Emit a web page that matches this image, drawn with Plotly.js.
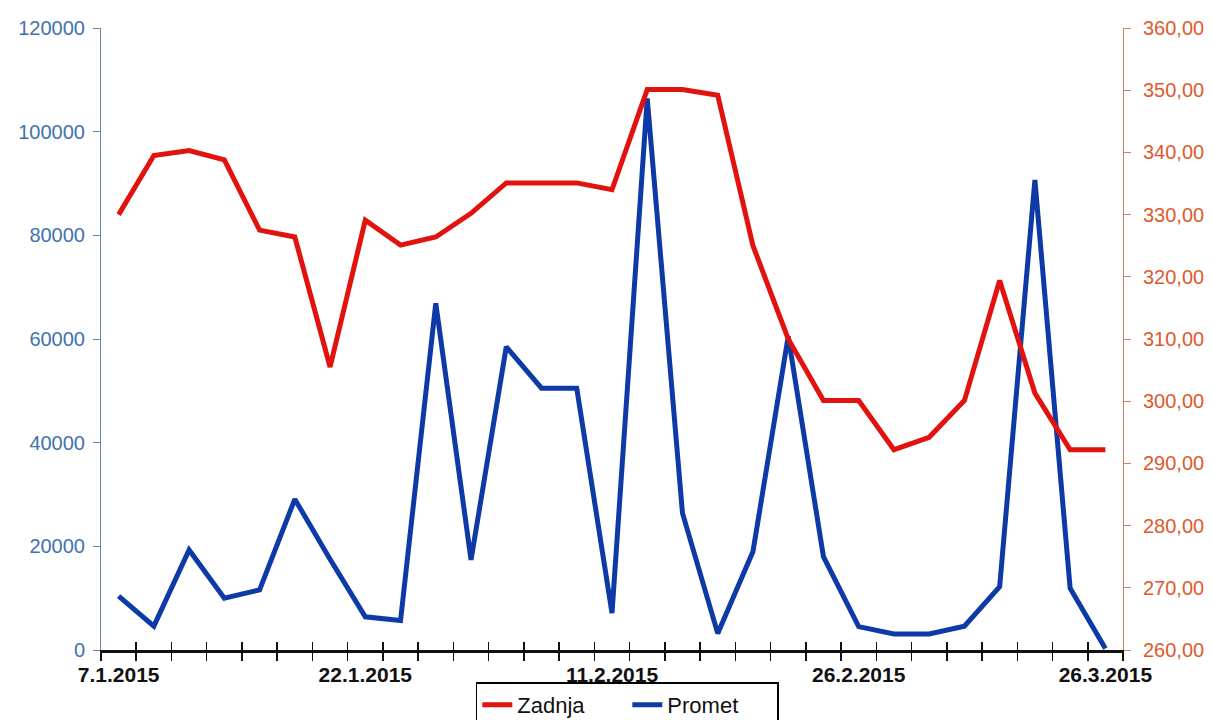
<!DOCTYPE html>
<html>
<head>
<meta charset="utf-8">
<script src="https://cdn.plot.ly/plotly-3.0.1.min.js"></script>
<style>html,body{margin:0;padding:0;background:#fff;}#chart{width:1212px;height:720px;}</style>
</head>
<body>
<div id="chart"></div>
<script>
// Trading-day index (one point per day shown)
const dayIndex = [0,1,2,3,4,5,6,7,8,9,10,11,12,13,14,15,16,17,18,19,20,21,22,23,24,25,26,27,28];
const tickIdx = [0, 7, 14, 21, 28];
const tickLabels = ['7.1.2015', '22.1.2015', '11.2.2015', '26.2.2015', '26.3.2015'];

// Zadnja (last price) – right axis
const zadnja = [330.0, 339.5, 340.3, 338.8, 327.5, 326.4, 305.5, 329.1, 325.1, 326.4,
                330.2, 335.1, 335.1, 335.1, 334.0, 350.1, 350.1, 349.2, 325.0, 310.0,
                300.1, 300.1, 292.2, 294.2, 300.1, 319.4, 301.3, 292.2, 292.2];

// Promet (turnover) – left axis
const promet = [10400, 4600, 19300, 10000, 11600, 29100, 17500, 6400, 5700, 66900,
                17400, 58500, 50500, 50500, 7100, 106400, 26400, 3200, 19000, 60500,
                18000, 4500, 3100, 3100, 4600, 12200, 90700, 11900, 300];

const RED = '#e2120f';
const BLUE = '#0d3aa6';

const traces = [
  {x: dayIndex, y: zadnja, name: 'Zadnja', type: 'scatter', mode: 'lines',
   yaxis: 'y2', line: {color: RED, width: 5}},
  {x: dayIndex, y: promet, name: 'Promet', type: 'scatter', mode: 'lines',
   yaxis: 'y', line: {color: BLUE, width: 5}},
  {x: [], y: [], xaxis: 'x2', yaxis: 'y', showlegend: false, hoverinfo: 'skip'}
];

const layout = {
  width: 1212, height: 720,
  margin: {l: 101, r: 89, t: 28, b: 70, autoexpand: false},
  paper_bgcolor: '#ffffff', plot_bgcolor: '#ffffff',
  separators: ',.',
  font: {family: 'Liberation Sans, Arial, sans-serif'},
  showlegend: true,
  legend: {orientation: 'h', x: 0.515, xanchor: 'center', y: -0.052, yanchor: 'top',
           bordercolor: '#000', borderwidth: 1.5, bgcolor: '#fff',
           font: {size: 22, color: '#111'}, traceorder: 'normal',
           itemwidth: 30, tracegroupgap: 0, entrywidth: 105, entrywidthmode: 'pixels'},
  xaxis: {
    type: 'linear', range: [-0.5, 28.5], tickmode: 'array',
    tickvals: tickIdx, ticktext: tickLabels, ticks: '',
    tickfont: {size: 21, color: '#111', family: 'Liberation Sans, Arial, sans-serif', weight: 'bold'},
    ticklabelstandoff: 4,
    showline: true, linecolor: '#111', linewidth: 2.5, showgrid: false, zeroline: false,
    minor: {tickmode: 'linear', tick0: -0.5, dtick: 1, ticks: 'outside', ticklen: 8,
            tickcolor: '#111', tickwidth: 1.5, showgrid: false}
  },
  xaxis2: {
    type: 'linear', range: [-0.5, 28.5], overlaying: 'x', anchor: 'y',
    tickmode: 'linear', tick0: -0.5, dtick: 1, ticks: 'inside', ticklen: 8,
    tickcolor: '#111', tickwidth: 1.5, showticklabels: false,
    showline: false, showgrid: false, zeroline: false
  },
  yaxis: {
    range: [0, 120000], tickmode: 'linear', tick0: 0, dtick: 20000, tickformat: 'd',
    ticks: 'outside', ticklen: 7, tickcolor: '#6d86a6', tickwidth: 1,
    ticklabelstandoff: 4,
    tickfont: {size: 20, color: '#3f72b0'},
    showline: true, linecolor: '#6d86a6', linewidth: 1, showgrid: false, zeroline: false
  },
  yaxis2: {
    range: [260, 360], tickmode: 'linear', tick0: 260, dtick: 10, tickformat: '.2f',
    overlaying: 'y', side: 'right', anchor: 'x',
    ticks: 'outside', ticklen: 7, tickcolor: '#c9805e', tickwidth: 1,
    ticklabelstandoff: 8,
    tickfont: {size: 20, color: '#e0592c'},
    showline: true, linecolor: '#c9805e', linewidth: 1, showgrid: false, zeroline: false
  }
};

Plotly.newPlot('chart', traces, layout, {displayModeBar: false, staticPlot: true});
</script>
</body>
</html>
